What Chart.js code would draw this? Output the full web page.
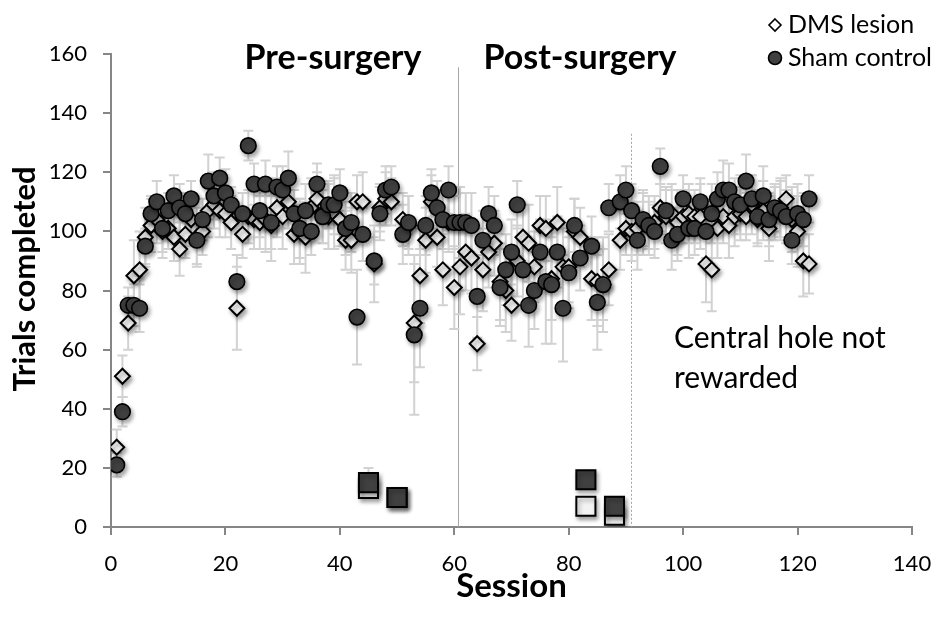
<!DOCTYPE html>
<html>
<head>
<meta charset="utf-8">
<script src="https://cdn.jsdelivr.net/npm/chart.js@4.4.0/dist/chart.umd.min.js"></script>
<style>
  html, body { margin: 0; padding: 0; background: #fff; }
  #wrap { width: 939px; height: 624px; }
</style>
</head>
<body>
<div id="wrap"><canvas id="myChart" width="939" height="624"></canvas></div>
<script>
const FONT = "Lato, 'Open Sans', sans-serif";

// session numbers 1..122
const sessions = [
  1, 2, 3, 4, 5, 6, 7, 8, 9, 10, 11, 12, 13, 14, 15, 16, 17, 18, 19, 20,
  21, 22, 23, 24, 25, 26, 27, 28, 29, 30, 31, 32, 33, 34, 35, 36, 37, 38, 39, 40,
  41, 42, 43, 44, 45, 46, 47, 48, 49, 50, 51, 52, 53, 54, 55, 56, 57, 58, 59, 60,
  61, 62, 63, 64, 65, 66, 67, 68, 69, 70, 71, 72, 73, 74, 75, 76, 77, 78, 79, 80,
  81, 82, 83, 84, 85, 86, 87, 88, 89, 90, 91, 92, 93, 94, 95, 96, 97, 98, 99, 100,
  101, 102, 103, 104, 105, 106, 107, 108, 109, 110, 111, 112, 113, 114, 115, 116, 117, 118, 119, 120,
  121, 122
];

// mean trials completed, sham control (null = probe session)
const shamMean = [
  21, 39, 75, 75, 74, 95, 106, 110, 101, 107, 112, 108, 106, 111, 97, 104, 117, 112, 118, 113,
  109, 83, 106, 129, 116, 107, 116, 103, 115, 114, 118, 106, 101, 107, 100, 116, 105, 109, 109, 113,
  101, 103, 71, 99, null, 90, 106, 114, 115, null, 99, 103, 65, 74, 102, 113, 108, 104, 114, 103,
  103, 103, 102, 78, 97, 106, 102, 81, 87, 93, 109, 87, 75, 80, 93, 83, 82, 93, 74, 86,
  102, 91, null, 95, 76, 82, 108, null, 110, 114, 107, 97, 104, 102, 100, 122, 107, 97, 99, 111,
  101, 101, 110, 100, 106, 111, 114, 114, 110, 109, 117, 111, 105, 112, 104, 108, 107, 105, 97, 106,
  104, 111
];
const shamErr = [
  4, 5, 6, 7, 8, 6, 6, 7, 8, 6, 7, 8, 7, 6, 8, 7, 9, 8, 7, 8,
  6, 9, 7, 5, 7, 9, 8, 9, 7, 8, 9, 8, 10, 9, 8, 7, 9, 8, 10, 8,
  9, 10, 16, 9, 0, 8, 9, 8, 7, 0, 10, 9, 27, 20, 10, 8, 9, 10, 8, 9,
  12, 10, 11, 14, 10, 9, 10, 13, 12, 11, 8, 12, 14, 13, 11, 21, 20, 12, 18, 12,
  9, 11, 0, 10, 16, 12, 8, 0, 9, 8, 9, 10, 9, 8, 9, 6, 8, 10, 9, 8,
  10, 9, 8, 9, 10, 9, 10, 9, 8, 10, 9, 8, 9, 10, 9, 8, 10, 9, 8, 10,
  9, 8
];

// mean trials completed, DMS lesion
const dmsMean = [
  27, 51, 69, 85, 87, 98, 102, 104, 100, 101, 98, 94, 99, 104, 98, 100, 107, 109, 107, 106,
  103, 74, 99, 105, 104, 103, 104, 102, 108, 105, 110, 99, 100, 98, 108, 111, 106, 105, 106, 104,
  97, 97, 110, 110, null, 89, 108, 111, 110, null, 104, 102, 69, 85, 97, 110, 98, 87, 103, 81,
  88, 93, 91, 62, 87, 93, 96, 83, 80, 75, 90, 98, 96, 88, 102, 101, 84, 103, 88, 88,
  100, 98, null, 84, 83, 82, 87, null, 97, 101, 100, 101, 103, 102, 103, 108, 105, 106, 103, 105,
  106, 105, 105, 89, 87, 101, 105, 102, 105, 106, 105, 109, 104, 107, 101, 106, 108, 111, 104, 100,
  90, 89
];
const dmsErr = [
  6, 7, 9, 12, 13, 10, 9, 8, 9, 7, 8, 9, 8, 9, 10, 8, 9, 8, 9, 8,
  9, 14, 8, 9, 10, 9, 11, 12, 10, 11, 9, 10, 11, 12, 10, 9, 10, 11, 12, 9,
  10, 11, 9, 10, 0, 13, 8, 9, 8, 0, 9, 10, 20, 16, 11, 9, 10, 12, 10, 14,
  16, 13, 12, 9, 14, 12, 11, 13, 14, 12, 12, 11, 13, 12, 10, 11, 14, 12, 13, 12,
  11, 10, 0, 14, 15, 16, 12, 0, 10, 9, 10, 9, 11, 10, 9, 8, 9, 10, 11, 9,
  10, 9, 11, 13, 14, 10, 9, 11, 10, 9, 8, 10, 9, 10, 11, 9, 10, 8, 11, 12,
  12, 10
];

// probe sessions drawn as squares
const probeSessions = [45, 50, 83, 88];
const probeSham = [15, 10, 16, 7];
const probeShamErr = [5, 0, 0, 0];
const probeDms = [13, 10, 7, 4];

const xTicks = [0, 20, 40, 60, 80, 100, 120, 140];
const yTicks = [0, 20, 40, 60, 80, 100, 120, 140, 160];

const surgeryLine = 60.6;
const rewardLine = 90.8;

function toPoints(xs, ys, errs) {
  const pts = [];
  const e = [];
  xs.forEach((x, i) => {
    if (ys[i] === null) return;
    pts.push({ x: x, y: ys[i] });
    e.push(errs ? errs[i] : 0);
  });
  return { pts, e };
}

const sham = toPoints(sessions, shamMean, shamErr);
const dms = toPoints(sessions, dmsMean, dmsErr);
const pSham = toPoints(probeSessions, probeSham, probeShamErr);
const pDms = toPoints(probeSessions, probeDms, null);

const DARK = "#404040";
const LIGHT = "#f3f3f3";

// grey whiskers behind the markers
const errorBars = {
  id: "errorBars",
  beforeDatasetsDraw(chart) {
    const { ctx } = chart;
    const xs = chart.scales.x, ys = chart.scales.y;
    ctx.save();
    ctx.strokeStyle = "#d2d2d2";
    ctx.lineWidth = 2;
    chart.data.datasets.forEach((ds) => {
      if (!ds.errors) return;
      ds.data.forEach((p, i) => {
        const err = ds.errors[i];
        if (!err) return;
        const px = xs.getPixelForValue(p.x);
        const top = ys.getPixelForValue(p.y + err);
        const bot = ys.getPixelForValue(p.y - err);
        ctx.beginPath();
        ctx.moveTo(px, top);
        ctx.lineTo(px, bot);
        ctx.moveTo(px - 5, top);
        ctx.lineTo(px + 5, top);
        ctx.moveTo(px - 5, bot);
        ctx.lineTo(px + 5, bot);
        ctx.stroke();
      });
    });
    ctx.restore();
  },
};

// phase separators
const phaseLines = {
  id: "phaseLines",
  beforeDatasetsDraw(chart) {
    const { ctx } = chart;
    const xs = chart.scales.x, ys = chart.scales.y;
    ctx.save();
    ctx.strokeStyle = "#a6a6a6";
    ctx.lineWidth = 1;
    let px = Math.round(xs.getPixelForValue(surgeryLine)) + 0.5;
    ctx.beginPath();
    ctx.moveTo(px, ys.getPixelForValue(155.5));
    ctx.lineTo(px, ys.getPixelForValue(0));
    ctx.stroke();
    px = Math.round(xs.getPixelForValue(rewardLine)) + 0.5;
    ctx.setLineDash([2, 2]);
    ctx.beginPath();
    ctx.moveTo(px, ys.getPixelForValue(133));
    ctx.lineTo(px, ys.getPixelForValue(0));
    ctx.stroke();
    ctx.restore();
  },
};

// soft drop shadow on markers
const markerShadow = {
  id: "markerShadow",
  beforeDatasetDraw(chart) {
    const { ctx } = chart;
    ctx.save();
    ctx.shadowColor = "rgba(0,0,0,0.35)";
    ctx.shadowBlur = 4;
    ctx.shadowOffsetX = 2;
    ctx.shadowOffsetY = 3;
  },
  afterDatasetDraw(chart) {
    chart.ctx.restore();
  },
};

// phase labels, y title, note and legend
const annotations = {
  id: "annotations",
  afterDraw(chart) {
    const { ctx } = chart;
    ctx.save();
    ctx.fillStyle = "#000";
    ctx.textBaseline = "middle";
    ctx.font = "bold 34px " + FONT;
    ctx.textAlign = "center";
    ctx.fillText("Pre-surgery", 333, 58);
    ctx.fillText("Post-surgery", 580, 58);

    ctx.save();
    ctx.translate(25, 279);
    ctx.rotate(-Math.PI / 2);
    ctx.font = "bold 31px " + FONT;
    ctx.fillText("Trials completed", 0, 0);
    ctx.restore();

    ctx.textAlign = "left";
    ctx.font = "30px " + FONT;
    ctx.fillText("Central hole not", 674, 338);
    ctx.fillText("rewarded", 674, 378);

    // legend
    ctx.font = "25px " + FONT;
    ctx.fillText("DMS lesion", 788, 25);
    ctx.fillText("Sham control", 788, 58);
    ctx.lineWidth = 1.6;
    ctx.strokeStyle = "#000";
    ctx.fillStyle = "#fff";
    ctx.beginPath();
    ctx.moveTo(775, 19);
    ctx.lineTo(781, 25);
    ctx.lineTo(775, 31);
    ctx.lineTo(769, 25);
    ctx.closePath();
    ctx.fill();
    ctx.stroke();
    ctx.fillStyle = DARK;
    ctx.beginPath();
    ctx.arc(775, 58, 6.5, 0, Math.PI * 2);
    ctx.fill();
    ctx.stroke();
    ctx.restore();
  },
};

const ctx = document.getElementById("myChart");
new Chart(ctx, {
  type: "scatter",
  data: {
    datasets: [
      {
        label: "Sham probe",
        data: pSham.pts,
        errors: pSham.e,
        pointStyle: "rect",
        pointRadius: 13.5,
        pointBackgroundColor: DARK,
        pointBorderColor: "#000",
        pointBorderWidth: 2,
      },
      {
        label: "DMS probe",
        data: pDms.pts,
        pointStyle: "rect",
        pointRadius: 13.5,
        pointBackgroundColor: LIGHT,
        pointBorderColor: "#000",
        pointBorderWidth: 2,
      },
      {
        label: "Sham control",
        data: sham.pts,
        errors: sham.e,
        pointStyle: "circle",
        pointRadius: 7.8,
        pointBackgroundColor: DARK,
        pointBorderColor: "#000",
        pointBorderWidth: 1.6,
      },
      {
        label: "DMS lesion",
        data: dms.pts,
        errors: dms.e,
        pointStyle: "rectRot",
        pointRadius: 7.5,
        pointBackgroundColor: LIGHT,
        pointBorderColor: "#000",
        pointBorderWidth: 2,
      },
    ],
  },
  options: {
    responsive: false,
    animation: false,
    devicePixelRatio: 1,
    layout: { padding: { top: 54, right: 27, left: 0, bottom: 0 } },
    plugins: {
      legend: { display: false },
      tooltip: { enabled: false },
    },
    scales: {
      x: {
        type: "linear",
        min: 0,
        max: 140,
        afterBuildTicks(scale) {
          scale.ticks = xTicks.map((v) => ({ value: v }));
        },
        ticks: { color: "#000", font: { size: 22, family: FONT }, padding: 16, maxRotation: 0 },
        grid: { drawOnChartArea: false, tickLength: 8, color: "#868686", lineWidth: 2 },
        border: { color: "#868686", width: 2 },
        title: {
          display: true,
          text: "Session",
          color: "#000",
          font: { size: 33, weight: "bold", family: FONT },
          padding: { top: 0, bottom: 18 },
        },
        afterFit(scale) {
          scale.height = 97;
          scale.paddingLeft = 0;
          scale.paddingRight = 0;
        },
      },
      y: {
        type: "linear",
        min: 0,
        max: 160,
        afterBuildTicks(scale) {
          scale.ticks = yTicks.map((v) => ({ value: v }));
        },
        ticks: { color: "#000", font: { size: 22, family: FONT }, padding: 16 },
        grid: { drawOnChartArea: false, tickLength: 8, color: "#868686", lineWidth: 2 },
        border: { color: "#868686", width: 2 },
        afterFit(scale) {
          scale.width = 111;
          scale.paddingTop = 0;
          scale.paddingBottom = 0;
        },
      },
    },
  },
  plugins: [phaseLines, errorBars, markerShadow, annotations],
});
</script>
</body>
</html>
